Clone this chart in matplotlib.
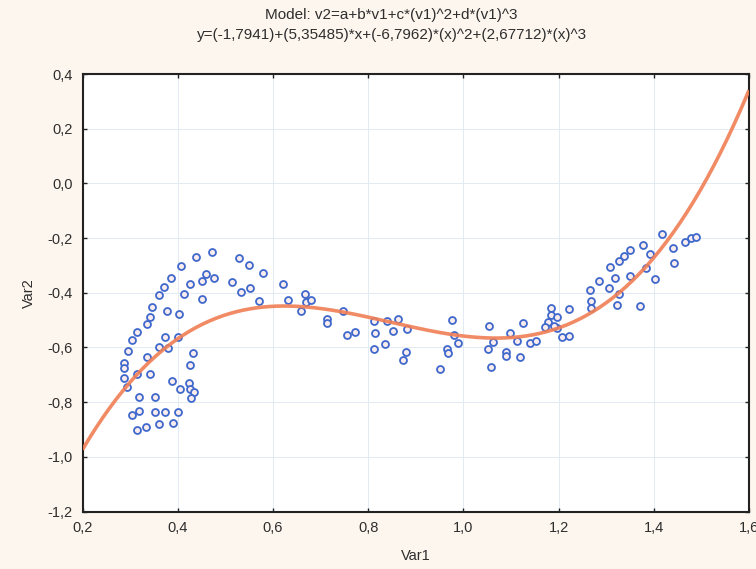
"""Cubic regression of Var2 on Var1 with the scatter of observations."""
import numpy as np
import matplotlib.pyplot as plt
from matplotlib.ticker import FuncFormatter, MultipleLocator

plt.rcParams["font.family"] = ["Liberation Sans", "DejaVu Sans"]

# observations
var1 = [
    0.473, 0.438, 0.529, 0.550, 0.407, 0.385, 0.459, 0.450, 0.477, 0.426,
    0.514, 0.372, 0.360, 0.414, 0.533, 0.552, 0.451, 0.347, 0.377, 0.402,
    0.341, 0.336, 0.315, 0.303, 0.373, 0.400, 0.361, 0.380, 0.296, 0.432,
    0.336, 0.287, 0.287, 0.426, 0.315, 0.341, 0.287, 0.293, 0.387, 0.423,
    0.404, 0.426, 0.434, 0.428, 0.318, 0.352, 0.318, 0.303, 0.352, 0.373,
    0.400, 0.315, 0.333, 0.360, 0.391,
    0.580, 0.571, 0.622, 0.632, 0.668, 0.670, 0.680, 0.658, 0.714, 0.713,
    0.747, 0.756, 0.772, 0.812, 0.839, 0.862, 0.815, 0.852, 0.882, 0.812,
    0.836, 0.879, 0.874,
    0.976, 0.981, 0.988, 0.966, 0.967, 0.951, 1.054, 1.063, 1.051, 1.058,
    1.098, 1.126, 1.113, 1.090, 1.090, 1.119, 1.140, 1.152, 1.184, 1.184,
    1.197, 1.177, 1.172, 1.196, 1.191, 1.222, 1.207, 1.221,
    1.418, 1.478, 1.466, 1.441, 1.378, 1.349, 1.338, 1.327, 1.391, 1.443,
    1.308, 1.384, 1.284, 1.319, 1.349, 1.403, 1.266, 1.306, 1.326, 1.268,
    1.268, 1.322, 1.372, 1.489,
]
var2 = [
    -0.252, -0.268, -0.272, -0.299, -0.302, -0.347, -0.332, -0.357, -0.345, -0.367,
    -0.362, -0.378, -0.409, -0.404, -0.398, -0.384, -0.424, -0.452, -0.466, -0.479,
    -0.490, -0.516, -0.544, -0.573, -0.561, -0.563, -0.597, -0.601, -0.612, -0.619,
    -0.635, -0.656, -0.674, -0.665, -0.696, -0.697, -0.711, -0.744, -0.723, -0.731,
    -0.751, -0.753, -0.762, -0.786, -0.780, -0.780, -0.833, -0.847, -0.835, -0.835,
    -0.835, -0.902, -0.892, -0.881, -0.875,
    -0.327, -0.430, -0.367, -0.427, -0.404, -0.433, -0.427, -0.467, -0.496, -0.512,
    -0.467, -0.555, -0.543, -0.503, -0.503, -0.496, -0.546, -0.541, -0.533, -0.606,
    -0.589, -0.618, -0.646,
    -0.500, -0.555, -0.585, -0.606, -0.622, -0.679, -0.521, -0.579, -0.606, -0.671,
    -0.548, -0.510, -0.575, -0.616, -0.631, -0.636, -0.583, -0.577, -0.457, -0.481,
    -0.488, -0.507, -0.526, -0.530, -0.521, -0.461, -0.563, -0.557,
    -0.185, -0.199, -0.216, -0.238, -0.225, -0.245, -0.265, -0.284, -0.258, -0.290,
    -0.307, -0.311, -0.356, -0.345, -0.340, -0.351, -0.389, -0.382, -0.405, -0.429,
    -0.457, -0.445, -0.450, -0.196,
]

# fitted model v2 = a + b*v1 + c*v1^2 + d*v1^3
coef_a, coef_b, coef_c, coef_d = -1.7941, 5.35485, -6.7962, 2.67712

BG = "#fdf6ee"
TEXT = "#2e2e2e"
GRID = "#e2eaf3"
CURVE = "#f07f55"
MARKER = "#3f68cc"


def comma(v, pos):
    return f"{v:.1f}".replace(".", ",")


fig = plt.figure(figsize=(7.56, 5.69), dpi=100)
fig.patch.set_facecolor(BG)
ax = fig.add_axes([82.5 / 756, 1 - 511.5 / 569, (749 - 82.5) / 756, (511.5 - 74) / 569])
ax.set_facecolor("white")

xs = np.linspace(0.2, 1.6, 300)
ys = coef_a + coef_b * xs + coef_c * xs ** 2 + coef_d * xs ** 3
ax.plot(var1, var2, "o", ms=5.0, mfc="#fbecee", mec=MARKER, mew=1.3,
        zorder=3, clip_on=False)
ax.plot(xs, ys, color=CURVE, lw=2.6, alpha=0.9, zorder=4,
        solid_capstyle="butt")

ax.set_xlim(0.2, 1.6)
ax.set_ylim(-1.2, 0.4)
ax.xaxis.set_major_locator(MultipleLocator(0.2))
ax.yaxis.set_major_locator(MultipleLocator(0.2))
ax.xaxis.set_major_formatter(FuncFormatter(comma))
ax.yaxis.set_major_formatter(FuncFormatter(comma))
ax.tick_params(direction="in", length=3, width=1, colors="#222222",
               labelcolor=TEXT, labelsize=10.5, top=True, right=True, pad=7)
ax.grid(color=GRID, linewidth=0.7)
ax.set_axisbelow(True)
for s in ax.spines.values():
    s.set_color("#222222")
    s.set_linewidth(1.5)

ax.set_xlabel("Var1", color=TEXT, fontsize=10.5, labelpad=10)
ax.set_ylabel("Var2", color=TEXT, fontsize=10.5, labelpad=8)

fig.text(0.518, 1 - 15 / 569, "Model: v2=a+b*v1+c*(v1)^2+d*(v1)^3",
         ha="center", va="center", color=TEXT, fontsize=11)
fig.text(0.518, 1 - 35 / 569,
         "y=(-1,7941)+(5,35485)*x+(-6,7962)*(x)^2+(2,67712)*(x)^3",
         ha="center", va="center", color=TEXT, fontsize=11)

fig.savefig("out.png", facecolor=BG, dpi=100)
